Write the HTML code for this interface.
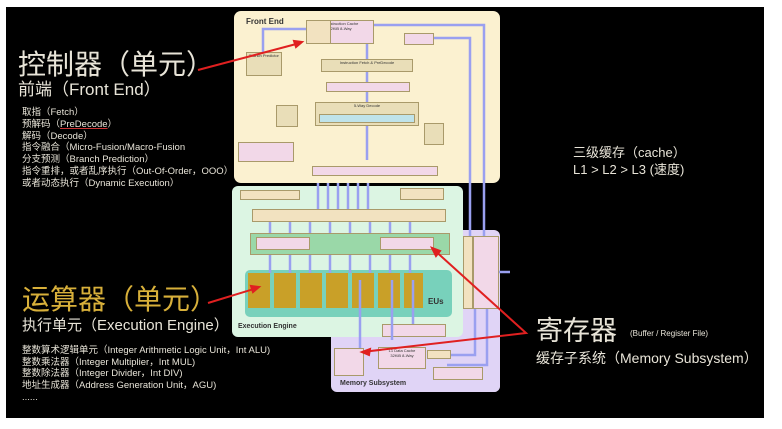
<!DOCTYPE html>
<html><head><meta charset="utf-8"><style>
*{margin:0;padding:0;box-sizing:border-box}
body{width:782px;height:429px;background:#fff;position:relative;overflow:hidden;font-family:"Liberation Sans","Noto Sans CJK SC",sans-serif}
#bg{position:absolute;left:6px;top:7px;width:758px;height:411px;background:#000}
.a{position:absolute;white-space:nowrap}
.b{position:absolute;border:1px solid #a99a6a;font-size:4px;color:#333;text-align:center;line-height:5px;overflow:hidden}
.t{color:#e8e4d8}
</style></head><body>
<div id="bg"></div>
<!-- Front End -->
<div class="a" style="left:234px;top:11px;width:266px;height:172px;background:#fbf1d0;border-radius:7px"></div>
<div class="a" style="left:246px;top:17px;font-size:8px;font-weight:bold;color:#333">Front End</div>
<!-- Memory -->
<div class="a" style="left:331px;top:320px;width:169px;height:72px;background:#e0d4f6;border-radius:6px"></div>
<div class="a" style="left:455px;top:230px;width:45px;height:162px;background:#e0d4f6;border-radius:6px"></div>
<div class="a" style="left:340px;top:380px;font-size:7px;font-weight:bold;color:#333">Memory Subsystem</div>
<!-- Execution Engine -->
<div class="a" style="left:232px;top:186px;width:231px;height:151px;background:#dcf5e3;border-radius:6px"></div>
<div class="a" style="left:238px;top:323px;font-size:7px;font-weight:bold;color:#333">Execution Engine</div>
<!-- EUs -->
<div class="a" style="left:245px;top:270px;width:207px;height:47px;background:#78d1bb;border-radius:5px"></div>
<div class="a" style="left:428px;top:297px;font-size:8px;font-weight:bold;color:#333">EUs</div>
<!-- inner boxes front end -->
<div class="b" style="left:306px;top:20px;width:68px;height:24px;background:#f2d8e8">L1 Instruction Cache<br>32KiB 8-Way</div>
<div class="b" style="left:306px;top:20px;width:25px;height:24px;background:#f2e2c0"></div>
<div class="b" style="left:404px;top:33px;width:30px;height:12px;background:#f2d8e8"></div>
<div class="b" style="left:246px;top:52px;width:36px;height:24px;background:#e9deb8">Branch Predictor</div>
<div class="b" style="left:321px;top:59px;width:92px;height:13px;background:#e9deb8">Instruction Fetch &amp; PreDecode</div>
<div class="b" style="left:326px;top:82px;width:84px;height:10px;background:#f2d8e8"></div>
<div class="b" style="left:315px;top:102px;width:104px;height:24px;background:#e9deb8">5-Way Decode</div>
<div class="b" style="left:319px;top:114px;width:96px;height:9px;background:#bfe3ea"></div>
<div class="b" style="left:276px;top:105px;width:22px;height:22px;background:#e9deb8"></div>
<div class="b" style="left:424px;top:123px;width:20px;height:22px;background:#e9deb8"></div>
<div class="b" style="left:238px;top:142px;width:56px;height:20px;background:#f2d8e8"></div>
<div class="b" style="left:312px;top:166px;width:126px;height:10px;background:#f2d8e8"></div>
<!-- exec boxes -->
<div class="b" style="left:240px;top:190px;width:60px;height:10px;background:#f2e2c0"></div>
<div class="b" style="left:400px;top:188px;width:44px;height:12px;background:#f2e2c0"></div>
<div class="b" style="left:252px;top:209px;width:194px;height:13px;background:#f2e2c0"></div>
<div class="b" style="left:250px;top:233px;width:200px;height:22px;background:#9ad8a8"></div>
<div class="b" style="left:256px;top:237px;width:54px;height:13px;background:#f2d8e8"></div>
<div class="b" style="left:380px;top:237px;width:54px;height:13px;background:#f2d8e8"></div>
<div class="a" style="left:248px;top:273px;width:175px;height:35px;background:repeating-linear-gradient(90deg,#c9a028 0 22px,transparent 22px 26px)"></div>
<!-- memory boxes -->
<div class="b" style="left:382px;top:324px;width:64px;height:13px;background:#f2d8e8"></div>
<div class="b" style="left:334px;top:348px;width:30px;height:28px;background:#f2d8e8"></div>
<div class="b" style="left:378px;top:347px;width:48px;height:22px;background:#f2d8e8">L1 Data Cache<br>32KiB 8-Way</div>
<div class="b" style="left:427px;top:350px;width:24px;height:9px;background:#f2e2c0"></div>
<div class="b" style="left:433px;top:367px;width:50px;height:13px;background:#f2d8e8"></div>
<div class="b" style="left:463px;top:236px;width:10px;height:73px;background:#f2e2c0"></div>
<div class="b" style="left:473px;top:236px;width:26px;height:73px;background:#f2d8e8"></div>
<svg class="a" style="left:0;top:0" width="782" height="429">
<g stroke="#9aa0f0" stroke-width="2.5" fill="none">
<path d="M263 52V29H306"/><path d="M374 25H484V236"/><path d="M434 38H470V236"/>
<path d="M367 44V59M367 72V82M367 92V102M367 126V160"/>
<path d="M318 183V209M328 183V209M338 183V209M348 183V209M358 183V209M368 183V209"/>
<path d="M270 222V233M290 222V233M310 222V233M330 222V233M350 222V233M370 222V233M390 222V233M410 222V233"/>
<path d="M270 255V273M290 255V273M310 255V273M330 255V273M350 255V273M370 255V273M390 255V273M410 255V273"/>
<path d="M360 280V348M392 280V340M413 280V324"/><path d="M499 272H510"/>
<path d="M487 309V365H447"/><path d="M475 309V355H451"/>
</g>
<g stroke="#e02020" stroke-width="2" fill="#e02020">
<line x1="198" y1="70" x2="300" y2="43"/><polygon points="302,42 294,41 296,47"/>
<line x1="208" y1="303" x2="257" y2="288"/><polygon points="259,287 251,286 253,292"/>
<polyline points="432,248 526,333 362,352" fill="none"/>
<polygon points="432,248 436,256 440,251"/><polygon points="362,352 370,349 369,355"/>
</g>
</svg>
<!-- left text -->
<div class="a t" style="left:18px;top:48px;font-size:28px;line-height:34px">控制器（单元）</div>
<div class="a t" style="left:18px;top:80px;font-size:17px;line-height:20px">前端（Front End）</div>
<div class="a t" style="left:22px;top:107px;font-size:9.5px;line-height:11.8px">取指（Fetch）<br>预解码（<span style="text-decoration:underline;text-decoration-color:#c33">PreDecode</span>）<br>解码（Decode）<br>指令融合（Micro-Fusion/Macro-Fusion<br>分支预测（Branch Prediction）<br>指令重排，或者乱序执行（Out-Of-Order，OOO）<br>或者动态执行（Dynamic Execution）</div>
<div class="a" style="left:22px;top:283px;font-size:28px;line-height:34px;color:#d8b03a">运算器（单元）</div>
<div class="a t" style="left:22px;top:316px;font-size:15px;line-height:20px">执行单元（Execution Engine）</div>
<div class="a t" style="left:22px;top:345px;font-size:9.5px;line-height:11.7px">整数算术逻辑单元（Integer Arithmetic Logic Unit，Int ALU)<br>整数乘法器（Integer Multiplier，Int MUL)<br>整数除法器（Integer Divider，Int DIV)<br>地址生成器（Address Generation Unit，AGU)<br>......</div>
<!-- right text -->
<div class="a t" style="left:573px;top:144px;font-size:13px;line-height:17px">三级缓存（cache）<br>L1 &gt; L2 &gt; L3 (速度)</div>
<div class="a t" style="left:536px;top:315px;font-size:27px;line-height:32px">寄存器</div>
<div class="a t" style="left:630px;top:329px;font-size:8px">(Buffer / Register File)</div>
<div class="a t" style="left:536px;top:349px;font-size:14px;line-height:18px">缓存子系统（Memory Subsystem）</div>
</body></html>
